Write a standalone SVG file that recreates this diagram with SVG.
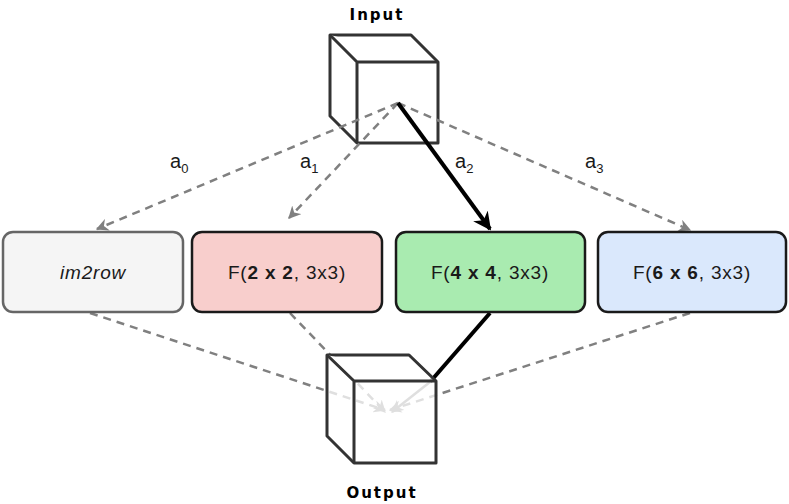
<svg xmlns="http://www.w3.org/2000/svg" width="789" height="504" viewBox="0 0 789 504">
<style>
.t{font-family:"Liberation Sans",Arial,sans-serif;font-size:19px;fill:#1a1a1a;letter-spacing:0.8px}
.a{font-family:"Liberation Sans",Arial,sans-serif;font-size:20px;fill:#1a1a1a}
.lbl{font-family:"DejaVu Sans",sans-serif;font-size:15px;font-weight:bold;letter-spacing:2px;fill:#000}
.d{stroke:#808080;stroke-width:2.5;stroke-dasharray:8 6;fill:none}
.cube{fill:#fff;stroke:#333;stroke-width:3;stroke-linejoin:round}
</style>
<defs>
<marker id="ag" viewBox="0 0 10 10" refX="9" refY="5" markerWidth="5" markerHeight="5" orient="auto"><path d="M0,0L10,5L0,10L3,5z" fill="#808080"/></marker>
<marker id="ab" viewBox="0 0 10 10" refX="9" refY="5" markerWidth="4.5" markerHeight="4.5" orient="auto"><path d="M0,0L10,5L0,10L3,5z" fill="#000"/></marker>
</defs>
<g id="input">
<path class="cube" d="M330,35H411L438,62V143H357L330,116Z"/>
<path class="cube" d="M330,35L357,62H438M357,62V143" fill="none"/>
<text class="lbl" x="377" y="20" text-anchor="middle">Input</text>
</g>
<g id="connectors">
<line class="d" x1="398" y1="103" x2="97" y2="229" marker-end="url(#ag)"/>
<line class="d" x1="398" y1="103" x2="289" y2="218" marker-end="url(#ag)"/>
<line class="d" x1="398" y1="103" x2="690" y2="230" marker-end="url(#ag)"/>
<line x1="398" y1="103" x2="490" y2="229" stroke="#000" stroke-width="4" marker-end="url(#ab)"/>
<line class="d" x1="90" y1="313" x2="385" y2="410" marker-end="url(#ag)"/>
<line class="d" x1="290" y1="313" x2="385" y2="412" marker-end="url(#ag)"/>
<line class="d" x1="690" y1="313" x2="390" y2="410" marker-end="url(#ag)"/>
<line x1="490" y1="313" x2="430" y2="382" stroke="#000" stroke-width="4"/>
<line x1="430" y1="382" x2="392" y2="412" stroke="#808080" stroke-width="2.5" marker-end="url(#ag)"/>
</g>
<g id="output">
<path class="cube" fill-opacity="0.75" d="M327,355H409L436,381V463H354L327,436Z"/>
<path class="cube" d="M327,355L354,381H436M354,381V463" fill="none"/>
<text class="lbl" x="382" y="498" text-anchor="middle">Output</text>
</g>
<g id="im2row"><rect x="3" y="232" width="180" height="80" rx="10" fill="#f5f5f5" stroke="#666" stroke-width="2.5"/><text class="t" x="93" y="279" text-anchor="middle" font-style="italic" letter-spacing="1.5">im2row</text></g>
<g id="f2"><rect x="192" y="232" width="190" height="80" rx="10" fill="#f8cecc" stroke="#1a1a1a" stroke-width="2.5"/><text class="t" x="287" y="279" text-anchor="middle">F(<tspan font-weight="bold">2 x 2</tspan>, 3x3)</text></g>
<g id="f4"><rect x="396" y="232" width="189" height="80" rx="10" fill="#a9ebb0" stroke="#1a1a1a" stroke-width="2.5"/><text class="t" x="490" y="279" text-anchor="middle">F(<tspan font-weight="bold">4 x 4</tspan>, 3x3)</text></g>
<g id="f6"><rect x="598" y="232" width="188" height="80" rx="10" fill="#dae8fc" stroke="#1a1a1a" stroke-width="2.5"/><text class="t" x="692" y="279" text-anchor="middle">F(<tspan font-weight="bold">6 x 6</tspan>, 3x3)</text></g>
<g id="labels">
<text class="a" x="170" y="168">a<tspan font-size="13" dy="5">0</tspan></text>
<text class="a" x="300" y="168">a<tspan font-size="13" dy="5">1</tspan></text>
<text class="a" x="455" y="168">a<tspan font-size="13" dy="5">2</tspan></text>
<text class="a" x="585" y="168">a<tspan font-size="13" dy="5">3</tspan></text>
</g>
</svg>
